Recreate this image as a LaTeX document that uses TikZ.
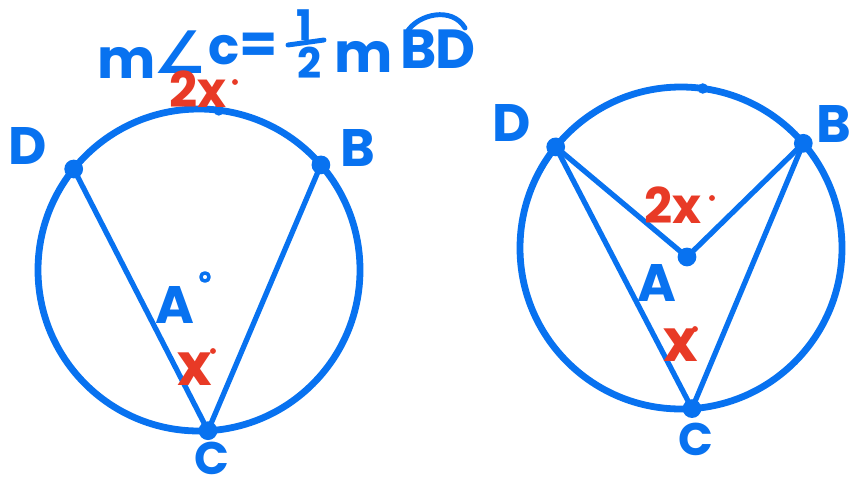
\documentclass[tikz,border=0pt]{standalone}
\usepackage{fontspec}
\setmainfont{Poppins}
\newfontfamily\djv{DejaVu Sans}
\definecolor{pblue}{RGB}{8,114,240}
\definecolor{pred}{RGB}{232,58,38}
\begin{document}
\begin{tikzpicture}[x=0.03cm,y=-0.03cm, line cap=round, line join=round,
  circ/.style={draw=pblue, line width=5.8pt},
  chord/.style={draw=pblue, line width=4.5pt},
  dot/.style={circle, fill=pblue, inner sep=0pt, minimum size=16pt},
  sdot/.style={circle, fill=pblue, inner sep=0pt, minimum size=9pt},
  rdot/.style={circle, fill=pred, inner sep=0pt, minimum size=5pt},
  lbl/.style={text=pblue, inner sep=0pt, font=\fontsize{45}{47}\selectfont\bfseries},
  clbl/.style={text=pblue, inner sep=0pt, font=\fontsize{39}{41}\selectfont\bfseries},
  rlbl/.style={text=pred, inner sep=0pt, font=\fontsize{42}{44}\selectfont\bfseries},
  rx/.style={text=pred, inner sep=0pt, font=\fontsize{50}{52}\selectfont\bfseries},
  eq/.style={text=pblue, inner sep=0pt, font=\fontsize{47}{49}\selectfont\bfseries},
  eqs/.style={text=pblue, inner sep=0pt, font=\fontsize{36}{38}\selectfont\bfseries}]
\useasboundingbox (0,0) rectangle (850,477);

% ---------- equation ----------
\node[eq] (m1) at (127,63) {m};
\node[text=pblue, inner sep=0pt, font=\djv\fontsize{50}{52}\selectfont\bfseries] (ang) at (180,52) {∠};
\node[text=pblue, inner sep=0pt, font=\fontsize{44}{46}\selectfont\bfseries] (c1) at (224,50) {c};
\node[eq] (eqsign) at (259,48) {=};
\node[eqs] (one) at (304,25) {1};
\node[eqs] (two) at (310,63) {2};
\coordinate (barL) at (288,45);
\coordinate (barR) at (324,40);
\draw[pblue, line width=4.2pt] (barL) -- (barR);
\node[eq] (m2) at (364,57) {m};
\node[eq] (bB) at (419,49) {B};
\node[eq] (bD) at (456,49) {D};
\coordinate (arcL) at (407,32);
\coordinate (arcR) at (465,28);
\draw[pblue, line width=4.2pt] (arcL) .. controls (418,14) and (452,6) .. (arcR);

% ---------- left circle ----------
\coordinate (O1) at (199,270);
\draw[circ] (O1) circle [radius=161];
\node[dot] (D1) at (73.7,169) {};
\node[dot] (B1) at (320.9,164.9) {};
\node[dot] (C1) at (208,430.7) {};
\node[sdot] (T1) at (218.8,110.4) {};
\draw[chord] (D1.center) -- (C1.center);
\draw[chord] (B1.center) -- (C1.center);
\node[draw=pblue, line width=3pt, circle, inner sep=0pt, minimum size=7pt] (A1c) at (205,277) {};
\node[lbl] (lD1) at (28,146) {D};
\node[lbl] (lB1) at (358,148) {B};
\node[clbl] (lC1) at (212,458) {C};
\node[lbl] (lA1) at (175,305) {A};
\node[rlbl] (tx1) at (198,89) {2x};
\node[rdot] (tx1d) at (235,82) {};
\node[rx] (x1) at (195,369) {x};
\node[rdot] (x1d) at (213,351) {};

% ---------- right circle ----------
\coordinate (O2c) at (681,248);
\draw[circ] (O2c) circle [radius=161];
\node[dot] (D2) at (555.7,146.9) {};
\node[dot] (B2) at (803.3,143.3) {};
\node[dot] (C2) at (692,408.6) {};
\node[dot] (O2) at (687,257) {};
\node[sdot] (T2) at (702.8,88.5) {};
\draw[chord] (D2.center) -- (C2.center);
\draw[chord] (B2.center) -- (C2.center);
\draw[chord] (D2.center) -- (O2.center);
\draw[chord] (B2.center) -- (O2.center);
\node[lbl] (lD2) at (512,123) {D};
\node[lbl] (lB2) at (834,124) {B};
\node[clbl] (lC2) at (696,439) {C};
\node[lbl] (lA2) at (657,283) {A};
\node[rlbl] (tx2) at (673,205) {2x};
\node[rdot] (tx2d) at (712,198) {};
\node[rx] (x2) at (681,345) {x};
\node[rdot] (x2d) at (695,329) {};
\end{tikzpicture}
\end{document}
